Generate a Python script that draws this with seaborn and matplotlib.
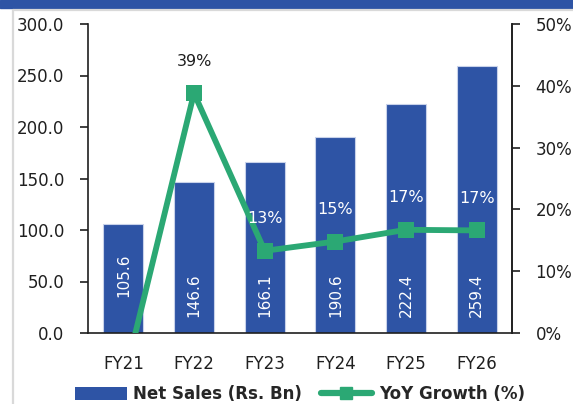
import matplotlib
matplotlib.use("Agg")
import matplotlib.pyplot as plt
import numpy as np
import pandas as pd
import seaborn as sns
from matplotlib.patches import Patch, Rectangle
from matplotlib.lines import Line2D

# ---- data ----
years = ["FY21", "FY22", "FY23", "FY24", "FY25", "FY26"]
net_sales = [105.6, 146.6, 166.1, 190.6, 222.4, 259.4]
yoy_growth = [-8.0, 38.8, 13.3, 14.8, 16.7, 16.6]
left_ticks = [0, 50, 100, 150, 200, 250, 300]
right_ticks = [0, 10, 20, 30, 40, 50]

BLUE = "#2E54A5"
GREEN = "#2BA874"
DARK = "#1f1f1f"

sns.set_style("white")
plt.rcParams["font.family"] = ["DejaVu Sans"]

W, H = 573, 404
fig = plt.figure(figsize=(W / 100, H / 100), dpi=100)

# frame decorations (top band, thin grey border)
fig.patches.append(Rectangle((0, 1 - 7.5 / H), 1, 7.5 / H, transform=fig.transFigure,
                             color=BLUE, zorder=0))
fig.lines.append(Line2D([13 / W, 1], [1 - 10 / H, 1 - 10 / H], transform=fig.transFigure,
                        color="#d9d9d9", lw=1.6))
fig.lines.append(Line2D([13 / W, 13 / W], [0, 1 - 10 / H], transform=fig.transFigure,
                        color="#d9d9d9", lw=1.6))

ax = fig.add_axes([88 / W, 1 - 333 / H, (512 - 88) / W, (333 - 24) / H])
df = pd.DataFrame({"year": years, "sales": net_sales, "growth": yoy_growth,
                   "pos": np.arange(len(years))})

sns.barplot(data=df, x="year", y="sales", color=BLUE, width=0.57, saturation=1,
            edgecolor="#c8d2ea", linewidth=0.8, ax=ax, zorder=2)
ax.set_xlim(-0.5, len(years) - 0.5)
ax.set_ylim(0, 300)
ax.set_yticks(left_ticks)
ax.set_yticklabels([f"{v:.1f}" for v in left_ticks])
ax.set_xlabel("")
ax.set_ylabel("")

# value labels inside bars
label_centers = [56, 37, 37, 37, 37, 37]
for i, v in enumerate(net_sales):
    ax.text(i, label_centers[i], f"{v:.1f}", rotation=90, ha="center", va="center",
            color="white", fontsize=11, zorder=3)

# category boundary ticks with labels at centers
ax.set_xticks(np.arange(-0.5, len(years), 1.0))
ax.set_xticklabels([])
ax.set_xticks(np.arange(len(years)), minor=True)
ax.set_xticklabels(years, minor=True)
ax.tick_params(axis="x", which="major", length=6, width=1.2, color=DARK, direction="out")
ax.tick_params(axis="x", which="minor", length=0, pad=16, labelsize=12, labelcolor=DARK)
ax.tick_params(axis="y", length=6, width=1.2, color=DARK, pad=11, labelsize=12,
               labelcolor=DARK, left=True)

for s in ["left", "bottom", "right"]:
    ax.spines[s].set_visible(True)
    ax.spines[s].set_color(DARK)
    ax.spines[s].set_linewidth(1.2)
ax.spines["top"].set_visible(False)

ax2 = ax.twinx()
sns.lineplot(data=df, x="pos", y="growth", color=GREEN, lw=4.2, marker="s",
             markersize=11.5, markeredgewidth=0, ax=ax2, zorder=4)
ax2.set_ylim(0, 50)
ax2.set_yticks(right_ticks)
ax2.set_yticklabels([f"{v}%" for v in right_ticks])
ax2.set_xlim(-0.5, len(years) - 0.5)
ax2.set_ylabel("")
ax2.set_xlabel("")
ax2.tick_params(axis="y", length=6, width=1.2, color=DARK, pad=11, labelsize=12,
                labelcolor=DARK, right=True)
for s in ["left", "bottom", "top"]:
    ax2.spines[s].set_visible(False)
ax2.spines["right"].set_color(DARK)
ax2.spines["right"].set_linewidth(1.2)

label_colors = ["none", DARK, "white", "white", "white", "white"]
for i, g in enumerate(yoy_growth):
    if g <= 0:
        continue
    ax2.annotate(f"{g:.0f}%", (i, g), xytext=(0, 23), textcoords="offset points",
                 ha="center", va="center", fontsize=11.5, color=label_colors[i], zorder=5)

handles = [Patch(facecolor=BLUE, edgecolor="none"),
           Line2D([], [], color=GREEN, lw=4.5, marker="s", markersize=9,
                  solid_capstyle="round")]
fig.legend(handles, ["Net Sales (Rs. Bn)", "YoY Growth (%)"], loc="center",
           bbox_to_anchor=(300 / W, 1 - 394 / H), ncol=2, frameon=False,
           prop={"weight": "bold", "size": 12}, handlelength=3.1, handleheight=0.8,
           handletextpad=0.4, columnspacing=1.1, borderpad=0, borderaxespad=0)

fig.savefig("out.png", dpi=100)
